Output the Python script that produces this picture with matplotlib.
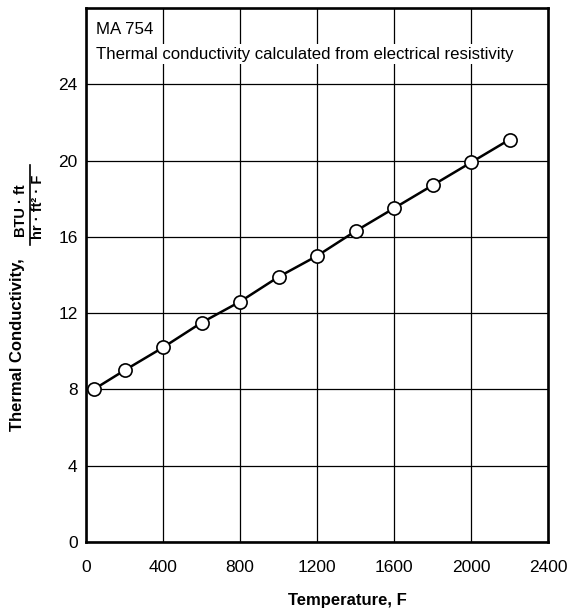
import matplotlib
matplotlib.use("Agg")
import matplotlib.pyplot as plt
from matplotlib import font_manager
from matplotlib.lines import Line2D

names = {f.name for f in font_manager.fontManager.ttflist}
FONT = "Liberation Sans Narrow" if "Liberation Sans Narrow" in names else "Liberation Sans"
plt.rcParams["font.family"] = [FONT, "DejaVu Sans"]

# Data
temperature_F = [40, 200, 400, 600, 800, 1000, 1200, 1400, 1600, 1800, 2000, 2200]
conductivity = [8.0, 9.0, 10.2, 11.5, 12.6, 13.9, 15.0, 16.3, 17.5, 18.7, 19.9, 21.1]
x_ticks = [0, 400, 800, 1200, 1600, 2000, 2400]
y_ticks = [0, 4, 8, 12, 16, 20, 24]

W, H = 569, 610
fig = plt.figure(figsize=(W / 100, H / 100), dpi=100)
ax = fig.add_axes([86 / W, 1 - 542 / H, (548 - 86) / W, (542 - 8) / H])

ax.set_xlim(0, 2400)
ax.set_ylim(0, 28)
ax.set_xticks(x_ticks)
ax.set_yticks(y_ticks)
ax.grid(True, color="black", linewidth=0.9)
ax.set_axisbelow(True)
for s in ax.spines.values():
    s.set_linewidth(1.9)
ax.tick_params(length=0, labelsize=12.5, pad=6)
ax.tick_params(axis="x", pad=13)

ax.plot(temperature_F, conductivity, color="black", linewidth=1.8,
        marker="o", markersize=9.5, markerfacecolor="white",
        markeredgecolor="black", markeredgewidth=1.2, zorder=3, clip_on=False)

bb = dict(facecolor="white", edgecolor="none", pad=1.5)
ax.text(96 / W, 1 - 30 / H, "MA 754", transform=fig.transFigure, fontsize=12.2,
        va="center", ha="left", bbox=bb)
ax.text(96 / W, 1 - 54 / H, "Thermal conductivity calculated from electrical resistivity",
        transform=fig.transFigure, fontsize=12.1, va="center", ha="left", bbox=bb)

fig.text(347 / W, 1 - 600 / H, "Temperature, F", fontsize=12, fontweight="bold",
         ha="center", va="center")
fig.text(18 / W, 1 - 345 / H, "Thermal Conductivity,", fontsize=12, fontweight="bold",
         rotation=90, ha="center", va="center")
fig.text(28.5 / W, 1 - 211 / H, "BTU · ft", fontsize=10.5, fontweight="bold",
         rotation=90, ha="right", va="center")
fig.text(31.5 / W, 1 - 207 / H, "hr · ft² · F", fontsize=10.5, fontweight="bold",
         rotation=90, ha="left", va="center")
fig.add_artist(Line2D([30 / W, 30 / W], [1 - 245 / H, 1 - 165 / H],
                      transform=fig.transFigure, color="black", linewidth=1.2))

fig.savefig("out.png", dpi=100)
